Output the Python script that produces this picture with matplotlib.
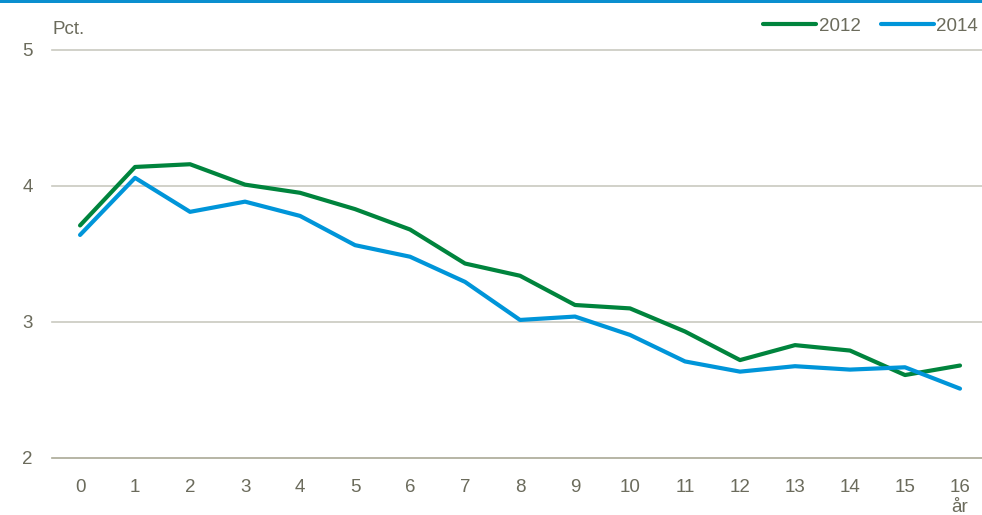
import matplotlib
matplotlib.use("Agg")
import matplotlib.pyplot as plt
from matplotlib.patches import Rectangle
from matplotlib import font_manager

years = list(range(17))
series_2012 = [3.71, 4.14, 4.16, 4.01, 3.95, 3.83, 3.68, 3.43, 3.34, 3.125, 3.10,
               2.93, 2.72, 2.83, 2.79, 2.61, 2.68]
series_2014 = [3.64, 4.06, 3.81, 3.885, 3.78, 3.565, 3.48, 3.295, 3.015, 3.04, 2.905,
               2.71, 2.635, 2.675, 2.65, 2.667, 2.51]
yticks = [2, 3, 4, 5]
labels = ["2012", "2014"]

names = {f.name for f in font_manager.fontManager.ttflist}
fam = ["Liberation Sans Narrow", "Liberation Sans", "DejaVu Sans"]
fam = [f for f in fam if f in names] or ["DejaVu Sans"]
plt.rcParams["font.family"] = fam

txt = "#6b6b5c"
green = "#00843d"
blue = "#0095d9"
fs = 13.5

fig = plt.figure(figsize=(9.82, 5.15), dpi=100)
ax = fig.add_axes([52/982, 1-458/515, 1-52/982, (458-50)/515])

ax.plot(years, series_2012, color=green, lw=3.0, label=labels[0], solid_capstyle="round")
ax.plot(years, series_2014, color=blue, lw=3.0, label=labels[1], solid_capstyle="round")

ax.set_xlim(-0.51, 16.4)
ax.set_ylim(2, 5)
ax.set_yticks(yticks)
ax.set_xticks(years)
ax.tick_params(axis="both", length=0, labelsize=fs, colors=txt)
ax.tick_params(axis="y", pad=14)
ax.tick_params(axis="x", pad=15)
for y in yticks:
    ax.axhline(y, color="#c9c9c0" if y != 2 else "#aaa996", lw=1.2, zorder=0, clip_on=False)
for s in ax.spines.values():
    s.set_visible(False)

fig.text(52/982, 1-29/515, "Pct.", color=txt, fontsize=fs, va="center", ha="left")
fig.text(960/982, 1-507/515, "år", color=txt, fontsize=fs, va="center", ha="center")

leg = ax.legend(loc="upper right", bbox_to_anchor=(1.004, 1.097), ncol=2, frameon=False,
                fontsize=fs, handlelength=2.8, handletextpad=0.15, columnspacing=1.1,
                borderaxespad=0)
for t in leg.get_texts():
    t.set_color(txt)

fig.add_artist(Rectangle((0, 1-3/515), 1, 3/515, transform=fig.transFigure,
                         color="#0a8fcf", lw=0))

fig.savefig("out.png", dpi=100)
